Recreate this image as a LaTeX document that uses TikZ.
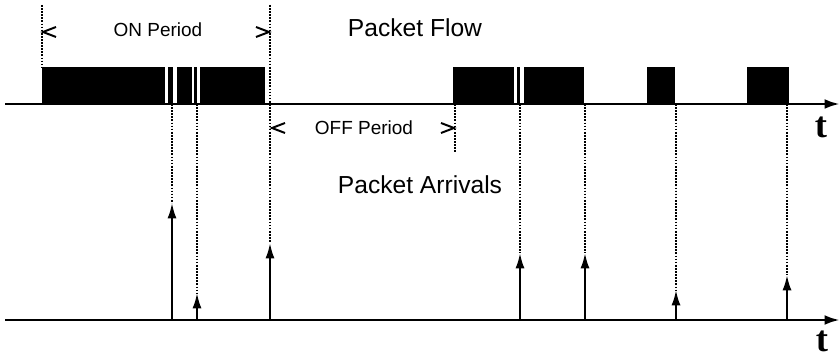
\documentclass[tikz,border=0pt]{standalone}
\usepackage{fontspec}
\setmainfont{Liberation Sans}
\newfontfamily\tfont{Liberation Serif}
\usetikzlibrary{arrows.meta}
\tikzset{
  axis/.style={line width=2pt, -{Latex[length=11pt,width=7pt]}},
  packet/.style={fill=black, draw=none},
  proj/.style={line width=1.8pt, dash pattern=on 1.2pt off 1pt},
  arrival/.style={line width=1.6pt, -{Latex[length=11pt,width=6.5pt]}},
  chev/.style={line width=1.4pt},
  small label/.style={font=\fontsize{13.5}{15}\selectfont},
  big label/.style={font=\fontsize{17.5}{20}\selectfont},
  tlabel/.style={font=\tfont\bfseries\fontsize{26}{28}\selectfont}
}
\begin{document}
\begin{tikzpicture}[x=0.025cm, y=-0.025cm]
\useasboundingbox (0,0) rectangle (840,359);

% packets on the flow line
\foreach \a/\b in {42/165, 168/173, 177/192, 194/197, 200/265,
                   453/514, 517/520, 524/584, 647/675, 747/789}
  \fill[packet] (\a,67) rectangle (\b,104);

% time axes
\coordinate (flow start) at (5,104);
\coordinate (flow end) at (840,104);
\coordinate (arr start) at (5,320);
\coordinate (arr end) at (840,320);
\draw[axis] (flow start) -- (flow end);
\draw[axis] (arr start) -- (arr end);

% packet ends projected down to the arrivals
\foreach \x/\tip in {172/203, 197/293, 270/243, 520/253, 585/253, 676/290, 787/275} {
  \draw[proj] (\x,104) -- (\x,\tip);
  \draw[arrival] (\x,320) -- (\x,\tip);
}

% period markers
\draw[proj] (42,5) -- (42,67);
\draw[proj] (270,5) -- (270,104);
\draw[proj] (455,104) -- (455,152);
\draw[chev] (56,27) -- (43,32) -- (56,37);
\draw[chev] (256,27) -- (269,32) -- (256,37);
\draw[chev] (285,123) -- (272,128) -- (285,133);
\draw[chev] (441,123) -- (454,128) -- (441,133);

\node[small label] (on) at (158,30) {ON Period};
\node[small label] (off) at (364,128) {OFF Period};
\node[big label] (flow) at (415,28) {Packet Flow};
\node[big label] (arrivals) at (420,185) {Packet Arrivals};
\node[tlabel] (t1) at (821,127) {t};
\node[tlabel] (t2) at (822,341) {t};
\end{tikzpicture}
\end{document}
